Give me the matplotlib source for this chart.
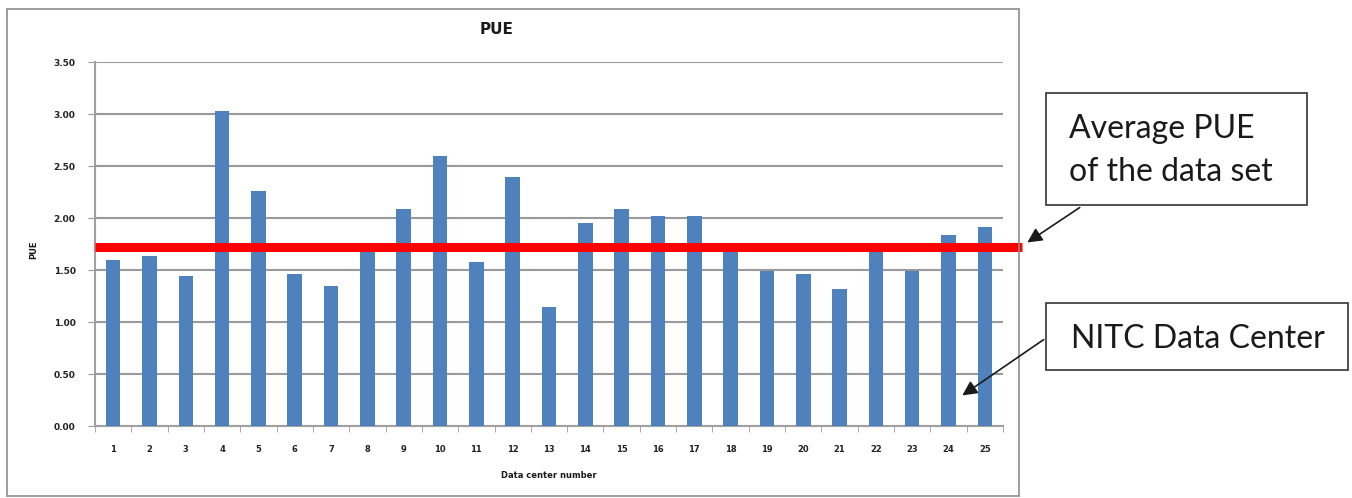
#importing the relevant modules
import matplotlib.pyplot as plt
from matplotlib.patches import Rectangle, FancyArrowPatch
import numpy as np

#chart values
centers = [str(i) for i in range(1, 26)]
pue = [1.60, 1.63, 1.44, 3.03, 2.26, 1.46, 1.35, 1.68, 2.09, 2.60,
       1.58, 2.39, 1.14, 1.95, 2.09, 2.02, 2.02, 1.68, 1.49, 1.46,
       1.32, 1.67, 1.49, 1.84, 1.91]
average_pue = 1.72
y_ticks = [0.0, 0.5, 1.0, 1.5, 2.0, 2.5, 3.0, 3.5]

W, H = 1352, 498

#helper to turn image pixels into figure fractions
def fx(px):
  return px / W

def fy(py):
  return 1 - py / H

fig = plt.figure(figsize=(W / 100, H / 100), dpi=100)
ax = fig.add_axes([fx(95), fy(426), fx(1003) - fx(95), fy(62) - fy(426)])

x = np.arange(len(centers))
ax.bar(x, pue, width=0.4, color='#4F81BD', zorder=3)

#average line runs past the plot area to the arrow
ax.plot([-0.5, 25.02], [average_pue, average_pue], color='#FF0000', lw=6.5,
        solid_capstyle='butt', clip_on=False, zorder=4)

ax.set_xlim(-0.5, len(centers) - 0.5)
ax.set_ylim(0, 3.5)
ax.set_yticks(y_ticks)
ax.set_yticklabels(['%.2f' % v for v in y_ticks], fontsize=6.5, fontweight='bold', color='#222222')
ax.set_xticks(x)
ax.set_xticklabels(centers, fontsize=6, fontweight='bold', color='#222222')
ax.set_xticks(np.arange(-0.5, len(centers)), minor=True)
ax.tick_params(axis='x', which='major', length=0, pad=14)
ax.tick_params(axis='x', which='minor', length=4, color='#999999', direction='out')
ax.tick_params(axis='y', length=5, color='#999999', direction='out', pad=9)
ax.grid(axis='y', color='#9a9a9a', lw=1.5, zorder=0)

for side in ['top', 'right']:
  ax.spines[side].set_visible(False)
ax.spines['left'].set_color('#a0a0a0')
ax.spines['bottom'].set_color('#a0a0a0')
ax.spines['left'].set_linewidth(1.5)
ax.spines['bottom'].set_linewidth(1.5)

#titles and axis names
fig.text(fx(497), fy(30), 'PUE', fontsize=11, fontweight='bold', ha='center', va='center', color='#1a1a1a')
fig.text(fx(34), fy(250), 'PUE', fontsize=6, fontweight='bold', rotation=90, ha='center', va='center', color='#1a1a1a')
fig.text(fx(549), fy(475), 'Data center number', fontsize=6, fontweight='bold', ha='center', va='center', color='#1a1a1a')

#outer chart border
fig.patches.append(Rectangle((fx(7), fy(496)), fx(1019) - fx(7), fy(9) - fy(496),
                             transform=fig.transFigure, fill=False, ec='#8c8c8c', lw=1.2))

#callout boxes
fig.patches.append(Rectangle((fx(1046), fy(205)), fx(1307) - fx(1046), fy(93) - fy(205),
                             transform=fig.transFigure, fill=False, ec='#333333', lw=1.2))
fig.patches.append(Rectangle((fx(1046), fy(370)), fx(1348) - fx(1046), fy(303) - fy(370),
                             transform=fig.transFigure, fill=False, ec='#333333', lw=1.2))

fig.text(fx(1069), fy(138), 'Average PUE', fontsize=23, family='Lato', color='#1a1a1a', ha='left', va='baseline')
fig.text(fx(1069), fy(181), 'of the data set', fontsize=23, family='Lato', color='#1a1a1a', ha='left', va='baseline')
fig.text(fx(1071), fy(348), 'NITC Data Center', fontsize=23, family='Lato', color='#1a1a1a', ha='left', va='baseline')

#arrows from the boxes
fig.patches.append(FancyArrowPatch((fx(1082), fy(206)), (fx(1025), fy(244)), transform=fig.transFigure,
                                   arrowstyle='-|>', mutation_scale=22, color='#1a1a1a', lw=1.2))
fig.patches.append(FancyArrowPatch((fx(1046), fy(338)), (fx(960), fy(397)), transform=fig.transFigure,
                                   arrowstyle='-|>', mutation_scale=22, color='#1a1a1a', lw=1.2))

fig.savefig('out.png', dpi=100)
